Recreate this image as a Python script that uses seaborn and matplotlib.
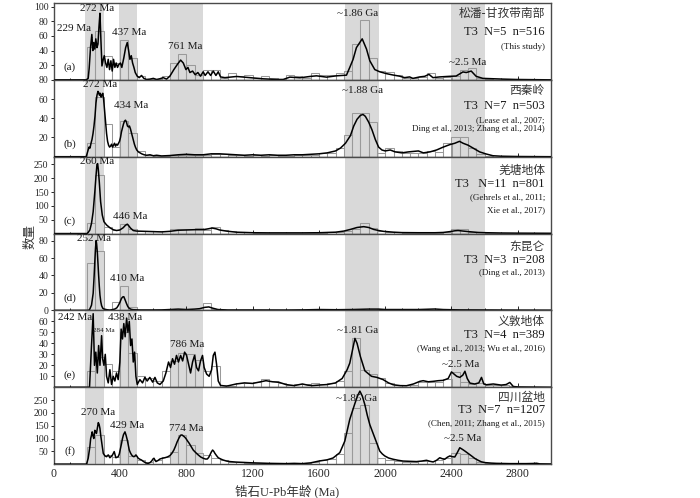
import numpy as np
import pandas as pd
import matplotlib
matplotlib.use('Agg')
import matplotlib.pyplot as plt
from matplotlib.ticker import MultipleLocator
import seaborn as sns

# ---- data ----
bin_left = list(range(0, 3000, 50))

ages_a = [0, 195, 207, 213, 221, 229, 235, 241, 247, 253, 260, 266, 272, 278, 284, 290, 298, 304, 312,
          320, 328, 336, 344, 352, 360, 368, 376, 384, 392, 402, 410, 422, 433, 443, 451, 459, 467, 475,
          483, 491, 503, 515, 529, 543, 559, 580, 600, 620, 640, 660, 680, 700, 724, 745, 765, 781, 797,
          809, 821, 837, 853, 869, 885, 901, 913, 930, 946, 962, 978, 992, 1006, 1032, 1103, 1183, 1264,
          1344, 1384, 1424, 1485, 1545, 1585, 1646, 1706, 1766, 1786, 1806, 1826, 1861, 1887, 1907, 1937,
          1967, 2007, 2047, 2087, 2117, 2147, 2167, 2208, 2238, 2264, 2288, 2328, 2388, 2428, 2469, 2489,
          2519, 2549, 2589, 2650, 2710, 2790, 3000]
kde_a = [0, 0, 2, 16, 44, 62, 40, 51, 42, 56, 44, 49, 72, 91, 53, 19, 28, 33, 23,
         17, 28, 14, 26, 12, 28, 17, 23, 17, 21, 23, 17, 30, 44, 51, 40, 28, 33, 23,
         17, 10, 5, 3, 6, 2, 0.5, 1, 2, 0.5, 1.5, 3, 1, 5, 14, 21, 27, 23, 14,
         17, 10, 12, 7, 10, 5, 11, 6, 11, 6, 12, 6, 11, 4, 3, 4.6, 3, 1.4,
         0.5, 0.5, 3.7, 2.8, 4.6, 5.5, 3.7, 5.5, 6.4, 17, 28, 44, 56, 42, 26, 14,
         11, 8.5, 6.6, 5, 3, 4, 2, 4, 4.8, 7.5, 3, 4, 4.8, 5.2, 10.8, 10,
         12, 4.8, 2, 1.5, 1, 0.5, 0]
hist_a = [0, 0, 0, 0, 45, 67, 33, 23, 54, 30,
          5, 1, 1, 5, 23, 35, 20, 7, 14, 13,
          3, 9, 5, 7, 3, 5, 2, 1, 7, 5,
          3, 9, 7, 7, 10, 12, 49, 82, 30, 12,
          11, 7, 3, 3, 4, 9, 3, 4, 5, 14,
          16, 2, 1, 0, 1, 0, 0, 0, 0, 0]

ages_b = [0, 195, 205, 212, 218, 224, 230, 236, 242, 248, 254, 260, 266, 270, 275, 280, 285, 290, 295,
          300, 306, 312, 318, 324, 330, 336, 342, 348, 354, 360, 366, 372, 378, 384, 390, 396, 402, 408,
          414, 420, 426, 432, 438, 444, 450, 456, 462, 468, 474, 480, 486, 492, 500, 510, 520, 530, 545,
          560, 580, 600, 620, 650, 700, 750, 800, 850, 900, 950, 1000, 1050, 1100, 1150, 1200, 1250, 1300,
          1350, 1400, 1450, 1500, 1550, 1600, 1650, 1700, 1730, 1760, 1790, 1810, 1830, 1850, 1866, 1880,
          1900, 1920, 1940, 1960, 1980, 2000, 2030, 2060, 2100, 2140, 2170, 2200, 2230, 2270, 2310, 2350,
          2390, 2420, 2448, 2470, 2500, 2530, 2570, 2610, 2650, 2700, 2800, 3000]
kde_b = [0, 0, 6, 10, 9, 14, 18, 24, 32, 42, 56, 64, 68, 67, 64, 66, 62, 64, 66,
         60, 48, 36, 24, 16, 12, 10, 11, 13, 10, 12, 14, 11, 13, 12, 14, 16, 20, 26,
         30, 34, 37, 38, 36, 32, 31, 32, 29, 25, 21, 17, 13, 10, 7, 5, 4, 3, 2,
         1.5, 2, 1, 1.5, 0.8, 1.2, 2, 2.5, 2, 2, 3, 3, 2.5, 2, 1.5, 2, 1.5, 2,
         1.5, 1.5, 2, 2, 2.5, 3, 4, 6, 9, 14, 22, 32, 39, 43, 44, 42,
         36, 28, 18, 10, 7, 6, 7, 5, 4, 5, 5.5, 6, 4, 5, 7, 10,
         12.6, 14, 16, 14, 12, 9, 5, 2.8, 1, 0.5, 0.2, 0]
hist_b = [0, 0, 0, 0, 14, 62, 34, 10, 37, 25,
          6, 2, 1, 1, 2, 2, 2, 2, 2, 3,
          3, 2, 2, 1, 2, 1, 2, 1, 1, 2,
          2, 2, 4, 4, 9, 23, 46, 46, 36, 4,
          9, 6, 4, 4, 4, 6, 5, 14, 20, 20,
          9, 3, 1, 0, 0, 0, 0, 0, 0, 0]

ages_c = [0, 200, 207, 217, 227, 237, 247, 255, 260, 264, 268, 274, 282, 292, 302, 318, 338, 358, 378,
          398, 418, 432, 443, 452, 462, 479, 499, 550, 600, 650, 700, 750, 800, 850, 900, 930, 955, 980,
          1000, 1040, 1100, 1150, 1200, 1300, 1400, 1500, 1600, 1700, 1750, 1790, 1830, 1870, 1900, 1930,
          1960, 1990, 2050, 2100, 2200, 2300, 2350, 2390, 2420, 2440, 2470, 2510, 2560, 2610, 2700, 2800, 3000]
kde_c = [0, 0, 4, 13, 37, 79, 151, 215, 250, 253, 232, 187, 115, 67, 43, 31, 21, 14, 11,
         13, 21, 30, 34, 28, 20, 11, 9, 8, 7, 6, 8, 12, 13, 14, 14, 17, 20, 17,
         13, 9, 5, 4, 3, 2.5, 2.5, 2.5, 3, 5, 9, 15, 22, 25, 22, 15,
         11, 8, 5, 3.5, 3, 3, 4, 7, 10, 11, 9, 6.6, 4, 3, 2, 1.5, 1]
hist_c = [0, 0, 0, 0, 37, 213, 25, 12, 33, 15,
          10, 8, 9, 9, 15, 17, 15, 21, 13, 22,
          13, 9, 5, 4, 3, 3, 3, 3, 3, 3,
          3, 3, 3, 4, 6, 10, 15, 37, 21, 9,
          6, 4, 3, 3, 3, 3, 3, 4, 15, 15,
          7, 4, 3, 2, 2, 2, 1, 1, 1, 1]

ages_d = [0, 210, 217, 227, 237, 243, 248, 251, 255, 258, 262, 266, 270, 274, 278, 283, 288, 295, 302,
          320, 338, 355, 368, 380, 388, 398, 408, 416, 422, 430, 438, 446, 455, 467, 479, 520, 600, 650,
          700, 750, 800, 850, 880, 910, 935, 960, 990, 1050, 1200, 1400, 1500, 1600, 1700, 1800, 1900,
          1960, 2000, 2100, 2200, 2300, 2350, 2450, 2600, 2800, 3000]
kde_d = [0, 0, 1.6, 6, 19.6, 40, 60, 71, 80, 76, 67, 54, 40, 28, 17.6, 10, 5.4, 2.5, 1.6,
         0.8, 0.4, 1, 1.6, 3, 5.4, 9, 13.8, 15.5, 15.7, 12, 8, 4.5, 2.3, 1.2, 0.8, 0.5, 0.5, 0.6,
         1, 1.5, 1, 1.5, 2, 3.5, 4, 2.5, 1, 0.5, 0.5, 0.4, 0.6, 1, 0.8, 1, 1.5,
         1.5, 1, 1, 1, 1.6, 1, 0.6, 0.5, 0.3, 0.2]
hist_d = [0, 0, 0, 0, 54, 68, 0, 10, 28, 4,
          0, 0, 0, 0, 1, 1, 0, 0, 9, 2,
          0, 0, 0, 0, 0, 0, 0, 0, 0, 1,
          0, 1, 0, 0, 0, 0, 0, 0, 0, 2,
          0, 0, 0, 0, 0, 1, 0, 0, 0, 0,
          0, 0, 0, 0, 0, 0, 0, 0, 0, 0]

ages_e = [0, 215, 227, 237, 245, 253, 262, 270, 278, 288, 294, 302, 310, 318, 328, 338, 348, 358, 368,
          378, 388, 398, 406, 414, 422, 430, 439, 447, 455, 463, 471, 479, 487, 495, 503, 519, 535, 549,
          563, 579, 596, 610, 624, 640, 660, 676, 692, 704, 716, 728, 740, 752, 765, 777, 789, 801, 813,
          825, 837, 849, 861, 873, 885, 897, 907, 922, 937, 952, 962, 972, 982, 992, 1006, 1042, 1100,
          1150, 1200, 1250, 1280, 1320, 1360, 1400, 1450, 1500, 1530, 1560, 1600, 1650, 1700, 1740, 1770,
          1786, 1800, 1817, 1830, 1850, 1877, 1917, 1950, 1987, 2020, 2048, 2090, 2128, 2170, 2209, 2229,
          2260, 2289, 2320, 2350, 2380, 2400, 2415, 2431, 2450, 2468, 2481, 2495, 2511, 2540, 2565, 2581,
          2595, 2610, 2652, 2700, 2730, 2752, 2773, 2800, 3000]
kde_e = [0, 0, 38, 67, 20, 32, 13, 38, 20, 47, 26, 20, 30, 10, 4, 16, 2.6, 10, 5.7,
         13, 7, 23, 53, 44, 58, 46, 63, 50, 60, 38, 44, 23, 32, 10, 2.6, 7, 4, 9,
         5.7, 9, 4.7, 9, 4, 2.6, 5.7, 13, 23, 18, 26, 21, 29, 23, 29, 24, 32, 29, 21,
         13, 23, 29, 18, 15, 24, 29, 18, 12, 10, 16, 29, 32, 21, 5.7, 1.7, 1, 3,
         4, 3.5, 5, 6, 5, 4.5, 2.5, 1.5, 3, 2, 1.5, 2, 2.5, 4, 8, 16,
         22, 32, 44.5, 40, 28, 15, 10, 9, 7, 4, 2.3, 1.5, 1.4, 3, 5.4, 6,
         5, 5.4, 6, 6.3, 8, 14, 12, 10, 9, 11, 14.6, 8, 3.8, 3, 4, 9,
         3, 2.3, 3, 2, 2.5, 4.4, 0.7, 0.3, 0]
hist_e = [0, 0, 0, 0, 15, 28, 21, 15, 50, 31,
          10, 8, 6, 15, 24, 31, 30, 25, 15, 19,
          2, 1, 4, 4, 5, 7.5, 6, 4, 2, 3,
          3, 4, 3, 4, 6, 15, 45, 16, 12, 8,
          4, 2, 2, 2, 5, 5, 5, 7.5, 14, 5,
          3, 4, 2, 2, 2, 1, 0, 0, 0, 0]

ages_f = [0, 197, 207, 217, 222, 227, 231, 236, 241, 247, 252, 257, 262, 268, 273, 278, 283, 288, 293,
          298, 308, 318, 328, 338, 346, 354, 364, 374, 388, 395, 402, 408, 414, 420, 429, 436, 443, 449,
          455, 462, 469, 476, 483, 490, 495, 502, 509, 519, 529, 539, 549, 559, 569, 580, 590, 598, 604,
          610, 616, 628, 640, 655, 670, 685, 700, 712, 724, 734, 744, 755, 765, 773, 781, 789, 797, 807,
          817, 829, 841, 856, 871, 886, 901, 915, 926, 934, 942, 950, 958, 965, 972, 982, 992, 1007, 1022,
          1042, 1062, 1100, 1150, 1200, 1250, 1300, 1350, 1400, 1450, 1500, 1550, 1600, 1650, 1685, 1726,
          1756, 1770, 1786, 1801, 1816, 1832, 1847, 1862, 1877, 1892, 1907, 1922, 1937, 1952, 1967, 1982,
          1997, 2020, 2048, 2078, 2108, 2150, 2189, 2220, 2249, 2270, 2289, 2310, 2329, 2345, 2359, 2375,
          2390, 2405, 2420, 2435, 2450, 2465, 2481, 2500, 2521, 2541, 2561, 2580, 2602, 2640, 2672, 2710,
          2752, 2800, 2850, 2890, 2913, 2933, 2970, 3000]
kde_f = [0, 0, 23, 68, 100, 113, 126, 110, 100, 132, 125, 120, 140, 162, 155, 139, 110, 87, 62,
         42, 32, 29, 36, 25, 30, 36, 49, 25, 29, 40, 61, 80, 100, 115, 126, 112, 94, 74,
         55, 44, 36, 31, 29, 32, 36, 30, 23, 19, 16, 11, 7, 4, 3, 6, 12, 20, 23,
         16, 10, 14, 20, 23, 25, 28, 33, 42, 55, 70, 87, 102, 113, 114, 110, 106, 100, 90,
         81, 68, 55, 45, 36, 28, 23, 20, 20, 26, 36, 47, 55, 50, 42, 33, 25, 20, 16,
         12, 10, 8, 6.5, 5, 4, 3, 2.5, 2, 3, 2, 5, 12, 17, 24, 45,
         90, 130, 175, 205, 235, 265, 285, 265, 232, 190, 154, 128, 103, 75, 51, 40,
         32, 24, 19, 15, 12, 11, 10, 12, 15, 11, 8.5, 15, 25, 21, 19, 27,
         32, 29, 28, 45, 64, 58, 51, 42, 32, 22, 15, 9, 6, 4, 3, 2.5,
         2, 2, 2, 2.5, 3.5, 1, 0.5, 0.5]
hist_f = [0, 0, 0, 0, 68, 113, 36, 29, 94, 33,
          15, 10, 15, 29, 49, 113, 74, 42, 36, 23,
          15, 10, 8, 6, 5, 4, 3, 3, 2, 3,
          3, 8, 15, 20, 38, 122, 219, 229, 83, 25,
          15, 12, 10, 10, 12, 12, 15, 25, 45, 41,
          25, 10, 4, 3, 2, 2, 2, 2, 2, 1]

panel_tags = ['(a)', '(b)', '(c)', '(d)', '(e)', '(f)']
region_names = ['松潘-甘孜带南部', '西秦岭', '羌塘地体', '东昆仑', '义敦地体', '四川盆地']
sample_info = ['T3  N=5  n=516', 'T3  N=7  n=503', 'T3   N=11  n=801',
               'T3  N=3  n=208', 'T3  N=4  n=389', 'T3  N=7  n=1207']
sources = [['(This study)'],
           ['(Lease et al., 2007;', 'Ding et al., 2013; Zhang et al., 2014)'],
           ['(Gehrels et al., 2011;', 'Xie et al., 2017)'],
           ['(Ding et al., 2013)'],
           ['(Wang et al., 2013; Wu et al., 2016)'],
           ['(Chen, 2011; Zhang et al., 2015)']]

age_bands = [(190, 300), (390, 500), (700, 900), (1760, 1960), (2400, 2600)]

peak_labels = [
    [('272 Ma', 258, 97), ('437 Ma', 455, 65), ('761 Ma', 795, 46), ('~1.86 Ga', 1835, 90), ('~2.5 Ma', 2495, 24)],
    [('272 Ma', 278, 75), ('434 Ma', 469, 53), ('~1.88 Ga', 1865, 69)],
    [('260 Ma', 258, 259), ('446 Ma', 463, 63)],
    [('252 Ma', 243, 82), ('410 Ma', 443, 36)],
    [('242 Ma', 127, 64), ('438 Ma', 428, 64), ('786 Ma', 805, 39), ('~1.81 Ga', 1835, 52), ('~2.5 Ma', 2458, 21)],
    [('270 Ma', 268, 203), ('429 Ma', 439, 152), ('774 Ma', 797, 139), ('~1.85 Ga', 1826, 255), ('~2.5 Ma', 2470, 100)],
]

ylims = [(0, 105), (0, 80), (0, 278), (0, 88), (0, 70), (0, 300)]
yticks = [[20, 40, 60, 80, 100], [20, 40, 60, 80], [50, 100, 150, 200, 250],
          [0, 20, 40, 60, 80], [10, 20, 30, 40, 50, 60], [50, 100, 150, 200, 250]]
# y positions (axes fraction) of the text lines on the right
text_rows = [[0.864, 0.622, 0.425], [0.86, 0.664, 0.48, 0.359], [0.827, 0.65, 0.468, 0.30],
             [0.828, 0.66, 0.483], [0.86, 0.68, 0.496], [0.872, 0.70, 0.52]]

curves = [(ages_a, kde_a), (ages_b, kde_b), (ages_c, kde_c),
          (ages_d, kde_d), (ages_e, kde_e), (ages_f, kde_f)]
hists = [hist_a, hist_b, hist_c, hist_d, hist_e, hist_f]

# ---- plotting ----
sns.set_theme(style='ticks')
plt.rcParams['font.family'] = ['Liberation Serif', 'Noto Sans CJK SC']
plt.rcParams['axes.unicode_minus'] = False

fig, axes = plt.subplots(6, 1, figsize=(7, 4.98), dpi=100, sharex=True,
                         gridspec_kw=dict(hspace=0))
fig.subplots_adjust(left=0.077, right=0.787, top=0.994, bottom=0.068)

edges = list(range(0, 3001, 50))
txt_col = '#1a1a1a'

for i, ax in enumerate(axes):
    for lo, hi in age_bands:
        ax.axvspan(lo, hi, color='#d9d9d9', lw=0, zorder=0)

    hdf = pd.DataFrame({'age': [b + 25 for b in bin_left], 'count': hists[i]})
    sns.histplot(data=hdf, x='age', weights='count', bins=edges, fill=False,
                 color='#9a9a9a', linewidth=0.75, ax=ax, zorder=2)

    cdf = pd.DataFrame({'age': curves[i][0], 'value': curves[i][1]})
    sns.lineplot(data=cdf, x='age', y='value', estimator=None, sort=True,
                 color='black', linewidth=1.1, ax=ax, zorder=3)

    ax.set_xlim(0, 3000)
    ax.set_ylim(*ylims[i])
    ax.set_yticks(yticks[i])
    ax.set_ylabel('')
    ax.set_xlabel('')
    ax.tick_params(axis='y', direction='out', length=2.5, width=0.7, labelsize=7, pad=1.5)
    ax.tick_params(axis='x', which='both', direction='in', width=0.7, labelsize=8.5, pad=3)
    ax.tick_params(axis='x', which='major', length=3)
    ax.tick_params(axis='x', which='minor', length=1.5)
    ax.xaxis.set_major_locator(MultipleLocator(400))
    ax.xaxis.set_minor_locator(MultipleLocator(100))
    for sp in ax.spines.values():
        sp.set_visible(True)
        sp.set_color('#4a4a4a')
        sp.set_linewidth(1.0)

    ax.text(0.032, 0.1, panel_tags[i], transform=ax.transAxes, fontsize=8,
            ha='center', va='bottom', color=txt_col)

    for lab, x, y in peak_labels[i]:
        ax.text(x, y, lab, fontsize=8, ha='center', va='center', color=txt_col, zorder=4)

    rows = text_rows[i]
    ax.text(0.988, rows[0], region_names[i], transform=ax.transAxes, ha='right',
            va='center', fontsize=8.5, family='Noto Sans CJK SC', color='#333333')
    ax.text(0.988, rows[1], sample_info[i], transform=ax.transAxes, ha='right',
            va='center', fontsize=9, color=txt_col)
    for k, src in enumerate(sources[i]):
        ax.text(0.988, rows[2 + k], src, transform=ax.transAxes, ha='right',
                va='center', fontsize=6.5, color=txt_col)

# extra small labels
axes[0].annotate('229 Ma', xy=(232, 58), xytext=(120, 70), fontsize=8, ha='center',
                 va='center', color=txt_col,
                 arrowprops=dict(arrowstyle='-', lw=0.5, color='black', shrinkA=1, shrinkB=0))
axes[4].text(300, 52, '284 Ma', fontsize=5, ha='center', va='center', color=txt_col)

fig.text(0.043, 0.525, '数量', rotation=90, ha='center', va='center', fontsize=9,
         family='Noto Sans CJK SC', color='#333333')
fig.text(0.41, 0.013, '锆石U-Pb年龄 (Ma)', ha='center', va='center', fontsize=9,
         family=['Liberation Serif', 'Noto Sans CJK SC'], color='#333333')

fig.savefig('out.png', dpi=100)
